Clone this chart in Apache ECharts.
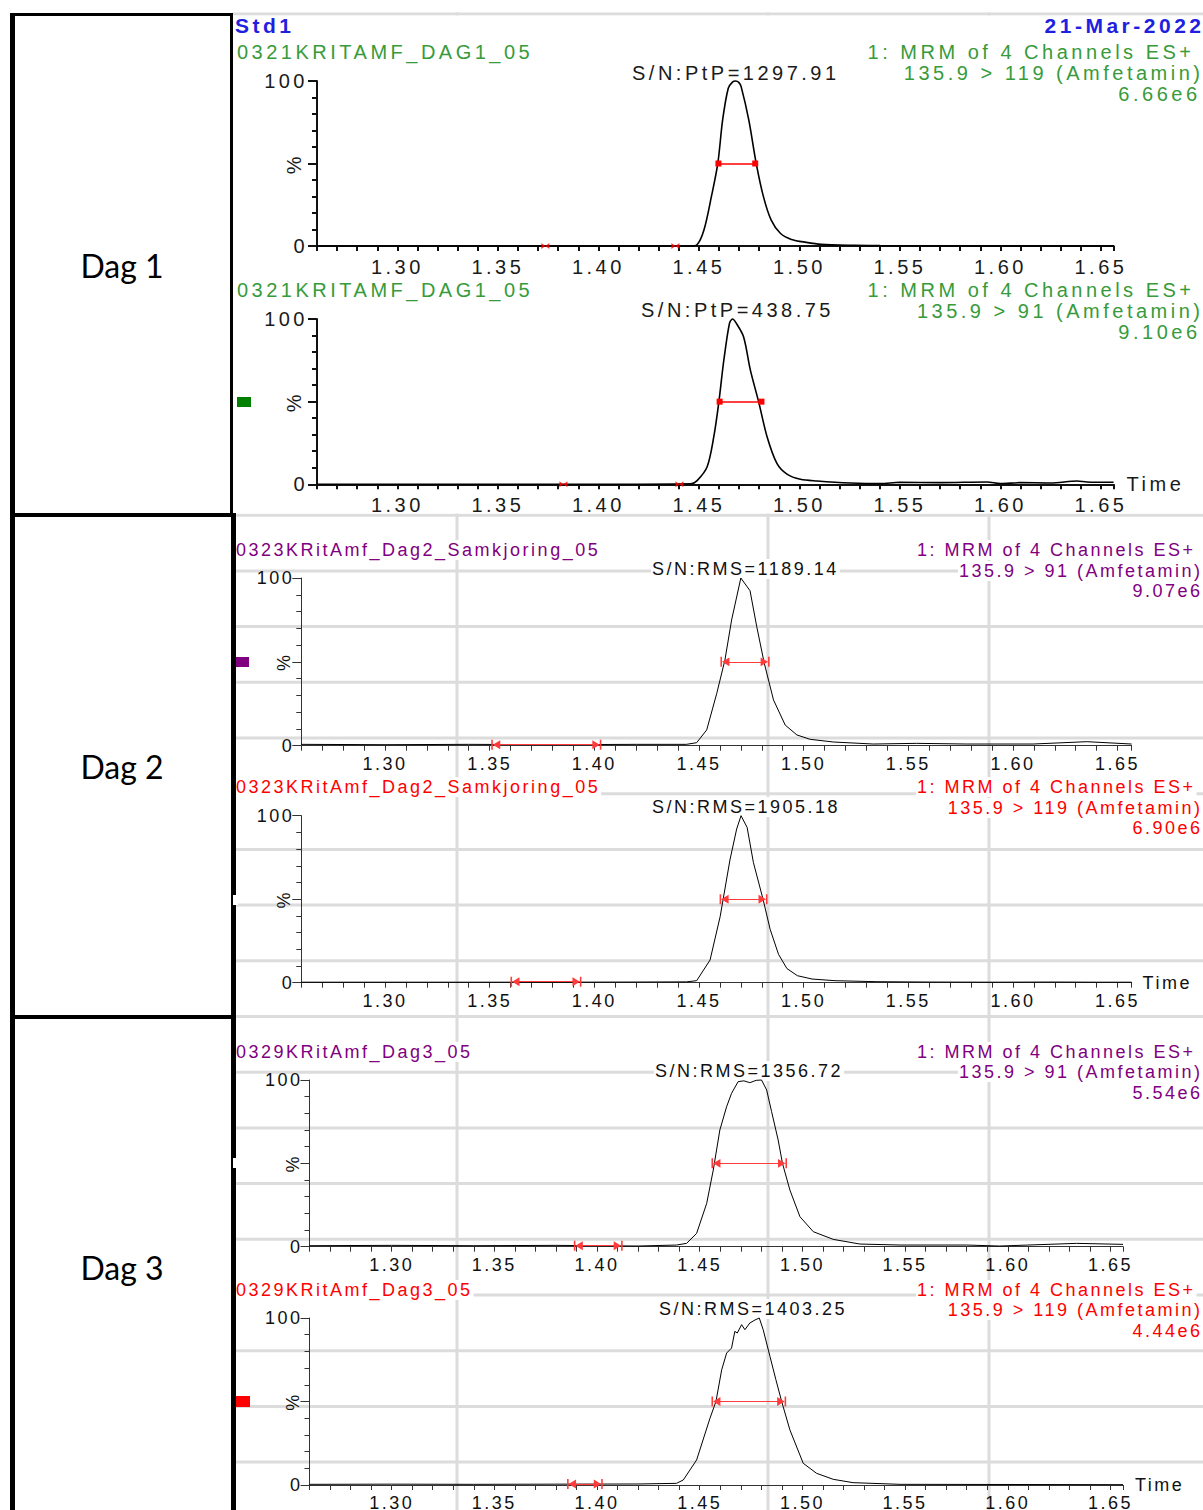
<!DOCTYPE html>
<html>
<head>
<meta charset="utf-8">
<script src="https://cdn.jsdelivr.net/npm/echarts@6/dist/echarts.min.js"></script>
<style>
  html, body { margin: 0; padding: 0; background: #fff; }
  #chart { width: 1203px; height: 1510px; }
</style>
</head>
<body>
<div id="chart"></div>
<script>
// ---------- chromatogram traces: retention time (min) / relative intensity (%) ----------
const dag1Amf119Time = [1.2600, 1.4000, 1.4458, 1.4489, 1.4525, 1.4562, 1.4594, 1.4618, 1.4646, 1.4668, 1.4683, 1.4698, 1.4710, 1.4748, 1.4785, 1.4821, 1.4859, 1.4905, 1.4960, 1.5034, 1.5108, 1.5275, 1.5400, 1.6563];
const dag1Amf119Pct  = [0, 0, 0, 0.6, 9.7, 29.9, 50.1, 76.4, 95.6, 99.5, 100, 99.2, 96.6, 76.4, 50.1, 29.9, 15.8, 7.7, 4.0, 2.2, 1.0, 0.4, 0.2, 0];

const dag1Amf91Time = [1.2600, 1.4000, 1.4460, 1.4491, 1.4541, 1.4574, 1.4599, 1.4624, 1.4652, 1.4667, 1.4684, 1.4722, 1.4756, 1.4797, 1.4839, 1.4888, 1.4938, 1.5005, 1.5088, 1.5254, 1.5403, 1.5500, 1.5700, 1.5934, 1.6000, 1.6100, 1.6250, 1.6382, 1.6430, 1.6563];
const dag1Amf91Pct  = [0, 0, 0.3, 2.2, 10.6, 28.8, 49.6, 75.2, 97.4, 100, 97.8, 89.3, 69.1, 50.0, 28.8, 12.7, 6.2, 3.0, 2.0, 0.8, 0.4, 1.2, 1.0, 1.4, 0.4, 1.0, 0.8, 2.0, 1.4, 1.2];

const dag2Amf91Time = [1.2600, 1.3000, 1.3400, 1.3800, 1.4200, 1.4440, 1.4489, 1.4537, 1.4585, 1.4624, 1.4656, 1.4700, 1.4744, 1.4776, 1.4811, 1.4856, 1.4912, 1.4968, 1.5031, 1.5142, 1.5333, 1.5540, 1.5780, 1.6096, 1.6353, 1.6567];
const dag2Amf91Pct  = [0.8, 0.6, 0.8, 0.6, 0.8, 0.8, 1.8, 9.4, 31.2, 51.1, 75.0, 100, 92.4, 71.0, 49.7, 27.3, 12.3, 6.4, 3.8, 2.2, 1.0, 1.4, 1.0, 1.0, 2.4, 1.0];

const dag2Amf119Time = [1.2600, 1.3000, 1.3400, 1.3800, 1.4200, 1.4440, 1.4489, 1.4553, 1.4601, 1.4648, 1.4680, 1.4701, 1.4730, 1.4760, 1.4806, 1.4840, 1.4880, 1.4920, 1.4970, 1.5040, 1.5150, 1.5350, 1.5600, 1.5900, 1.6200, 1.6400, 1.6567];
const dag2Amf119Pct  = [0.3, 0.3, 0.3, 0.3, 0.4, 0.5, 1.2, 13.6, 39.5, 73.5, 92.0, 100, 93.0, 72.0, 50.0, 32.0, 17.0, 8.5, 4.2, 2.2, 1.2, 0.6, 0.4, 0.3, 0.4, 0.3, 0.3];

const dag3Amf91Time = [1.2600, 1.3000, 1.3400, 1.3800, 1.4200, 1.4387, 1.4436, 1.4485, 1.4534, 1.4566, 1.4598, 1.4631, 1.4655, 1.4687, 1.4715, 1.4744, 1.4775, 1.4801, 1.4826, 1.4850, 1.4882, 1.4903, 1.4939, 1.4988, 1.5053, 1.5150, 1.5280, 1.5475, 1.5800, 1.5960, 1.6335, 1.6561];
const dag3Amf91Pct  = [0.6, 0.8, 0.6, 0.8, 0.4, 1.0, 2.0, 8.0, 26.0, 46.0, 70.0, 84.0, 92.0, 99.0, 99.5, 98.4, 99.8, 100, 94.0, 81.0, 64.0, 50.0, 34.0, 18.0, 9.0, 4.4, 1.6, 1.0, 1.0, 0.4, 2.0, 1.4];

const dag3Amf119Time = [1.2600, 1.3000, 1.3400, 1.3800, 1.4200, 1.4387, 1.4420, 1.4485, 1.4550, 1.4579, 1.4607, 1.4631, 1.4655, 1.4671, 1.4683, 1.4704, 1.4720, 1.4744, 1.4769, 1.4790, 1.4809, 1.4842, 1.4871, 1.4899, 1.4939, 1.5004, 1.5069, 1.5150, 1.5247, 1.5475, 1.6561];
const dag3Amf119Pct  = [0.4, 0.5, 0.4, 0.5, 0.6, 1.0, 3.0, 15.0, 40.0, 50.0, 69.0, 79.0, 82.0, 92.0, 91.0, 96.0, 93.0, 97.0, 98.8, 100, 93.0, 77.0, 63.0, 50.0, 33.0, 13.0, 7.0, 3.4, 1.4, 0.4, 0.2];

// ---------- peak width at half height and noise windows (min) ----------
const dag1Amf119Fwhm = [1.4597, 1.4780], dag1Amf119Noise = [1.3736, 1.4383];
const dag1Amf91Fwhm  = [1.4603, 1.4811], dag1Amf91Noise  = [1.3826, 1.4403];
const dag2Amf91Fwhm  = [1.4624, 1.4816], dag2Amf91Noise  = [1.3529, 1.4012];
const dag2Amf119Fwhm = [1.4620, 1.4806], dag2Amf119Noise = [1.3621, 1.3917];
const dag3Amf91Fwhm  = [1.4579, 1.4903], dag3Amf91Noise  = [1.3909, 1.4103];
const dag3Amf119Fwhm = [1.4579, 1.4899], dag3Amf119Noise = [1.3876, 1.4006];

// ---------- captions ----------
const standardName = 'Std1';
const runDate = '21-Mar-2022';
const dayLabels = ['Dag 1', 'Dag 2', 'Dag 3'];
const channelLabel = '1: MRM of 4 Channels ES+';
const sampleNames = ['0321KRITAMF_DAG1_05', '0321KRITAMF_DAG1_05', '0323KRitAmf_Dag2_Samkjoring_05', '0323KRitAmf_Dag2_Samkjoring_05', '0329KRitAmf_Dag3_05', '0329KRitAmf_Dag3_05'];
const transitions = ['135.9 > 119 (Amfetamin)', '135.9 > 91 (Amfetamin)', '135.9 > 91 (Amfetamin)', '135.9 > 119 (Amfetamin)', '135.9 > 91 (Amfetamin)', '135.9 > 119 (Amfetamin)'];
const intensities = ['6.66e6', '9.10e6', '9.07e6', '6.90e6', '5.54e6', '4.44e6'];
const snLabels = ['S/N:PtP=1297.91', 'S/N:PtP=438.75', 'S/N:RMS=1189.14', 'S/N:RMS=1905.18', 'S/N:RMS=1356.72', 'S/N:RMS=1403.25'];
const timeAxisName = 'Time';
const yAxisName = '%';

const traces = [
  { time: dag1Amf119Time, pct: dag1Amf119Pct, fwhm: dag1Amf119Fwhm, noise: dag1Amf119Noise },
  { time: dag1Amf91Time,  pct: dag1Amf91Pct,  fwhm: dag1Amf91Fwhm,  noise: dag1Amf91Noise },
  { time: dag2Amf91Time,  pct: dag2Amf91Pct,  fwhm: dag2Amf91Fwhm,  noise: dag2Amf91Noise },
  { time: dag2Amf119Time, pct: dag2Amf119Pct, fwhm: dag2Amf119Fwhm, noise: dag2Amf119Noise },
  { time: dag3Amf91Time,  pct: dag3Amf91Pct,  fwhm: dag3Amf91Fwhm,  noise: dag3Amf91Noise },
  { time: dag3Amf119Time, pct: dag3Amf119Pct, fwhm: dag3Amf119Fwhm, noise: dag3Amf119Noise }
];

// ---------- layout ----------
const ML_FONT = 'Liberation Sans, Arial';
const AR_FONT = 'Arial, Liberation Sans';
const looks = {
  ml: { font: ML_FONT, size: 20, spacing: 3.5, axis: '#111', axisW: 2, traceW: 1.6, smooth: 0.3, text: '#1a1a1a',
        yLabelMargin: 9, xLabelMargin: 11, pctGap: 13, boxed: false },
  ar: { font: AR_FONT, size: 18, spacing: 2.5, axis: '#333', axisW: 1, traceW: 1, smooth: false, text: '#111',
        yLabelMargin: 7, xLabelMargin: 9, pctGap: 8, boxed: true }
};
const GREEN = '#379b3b', PURPLE = '#800080', RED = '#ff0000';
const panels = [
  { look: 'ml', color: GREEN,  grid: { left: 317,   top: 81,    width: 796.6, height: 165 },   xMax: 1.6563, timeGap: null,
    name: [237, 52],  channel: [1194.5, 52],  trans: [1203.5, 73],  inten: [1200.5, 94],  sn: [632, 73] },
  { look: 'ml', color: GREEN,  grid: { left: 317,   top: 319,   width: 796.6, height: 165.3 }, xMax: 1.6563, timeGap: 13,
    name: [237, 290], channel: [1194.5, 290], trans: [1203.5, 311], inten: [1200.5, 332], sn: [641, 310] },
  { look: 'ar', color: PURPLE, grid: { left: 301.3, top: 578,   width: 830.3, height: 167.7 }, xMax: 1.6567, timeGap: null,
    name: [236, 550], channel: [1195.5, 550], trans: [1202.5, 571], inten: [1202.5, 591], sn: [652, 569] },
  { look: 'ar', color: RED,    grid: { left: 301.3, top: 815.7, width: 830.3, height: 167 },   xMax: 1.6567, timeGap: 11,
    name: [236, 787], channel: [1195.5, 787], trans: [1202.5, 808], inten: [1202.5, 828], sn: [652, 807] },
  { look: 'ar', color: PURPLE, grid: { left: 309.5, top: 1080,  width: 813.5, height: 166.7 }, xMax: 1.6561, timeGap: null,
    name: [236, 1052], channel: [1195.5, 1052], trans: [1202.5, 1072], inten: [1202.5, 1093], sn: [655, 1071] },
  { look: 'ar', color: RED,    grid: { left: 309.5, top: 1318,  width: 813.5, height: 167 },   xMax: 1.6561, timeGap: 12,
    name: [236, 1290], channel: [1195.5, 1290], trans: [1202.5, 1310], inten: [1202.5, 1331], sn: [659, 1309] }
];
const legendSwatches = [
  { x: 237, y: 397, w: 14, h: 10, fill: '#008000' },
  { x: 236, y: 657, w: 13, h: 10, fill: PURPLE },
  { x: 233, y: 895, w: 5, h: 10, fill: '#ffffff' },
  { x: 233, y: 1158, w: 5, h: 10, fill: '#ffffff' },
  { x: 236, y: 1396, w: 14, h: 11, fill: RED }
];
const sheetRowStart = 13.9, sheetRowStep = 55.7, sheetCols = [457, 768, 989];

const CAP_SYMBOL = 'path://M0,0 L9,0 L9,1.4 L0,1.4 Z M4.5,1.4 L8.5,8 L0.5,8 Z';
const BOWTIE = 'path://M0,0 L5,5 L0,10 Z M10,0 L5,5 L10,10 Z';

const measurer = document.createElement('canvas').getContext('2d');
function textWidth(str, family, size, spacing, weight) {
  measurer.font = (weight || 'normal') + ' ' + size + 'px ' + family;
  return measurer.measureText(str).width + spacing * str.length;
}
function caption(str, x, y, align, color, look, weight, size) {
  const fs = size || look.size;
  const out = [];
  if (look.boxed) {
    const w = textWidth(str, look.font, fs, look.spacing, weight);
    const left = align === 'right' ? x - w : x;
    out.push({ type: 'rect', z: -2, silent: true,
      shape: { x: left - 1, y: y - fs / 2 - 1, width: w + 2, height: fs + 2 }, style: { fill: '#fff' } });
  }
  out.push({ type: 'text', z: 5, silent: true,
    style: { text: str, x: x, y: y, textAlign: align, textVerticalAlign: 'middle', fill: color,
             font: (weight || 'normal') + ' ' + fs + 'px ' + look.font } });
  return out;
}
const xLabel = v => (Math.abs(v * 20 - Math.round(v * 20)) < 1e-6 ? v.toFixed(2) : '');

const option = { animation: false, grid: [], xAxis: [], yAxis: [], series: [], graphic: { elements: [] } };
const g = option.graphic.elements;

// spreadsheet gridlines behind the pasted chromatograms
for (let y = sheetRowStart; y < 1510; y += sheetRowStep) {
  g.push({ type: 'line', z: -3, silent: true, shape: { x1: 232, y1: y, x2: 1203, y2: y }, style: { stroke: '#dcdcdc', lineWidth: 3 } });
}
sheetCols.forEach(x => g.push({ type: 'line', z: -3, silent: true, shape: { x1: x, y1: 12.5, x2: x, y2: 1510 }, style: { stroke: '#dcdcdc', lineWidth: 3 } }));
// opaque background of the day-1 export
g.push({ type: 'rect', z: -2, silent: true, shape: { x: 233, y: 15.5, width: 970, height: 498 }, style: { fill: '#fff' } });

panels.forEach((p, i) => {
  const look = looks[p.look];
  const tr = traces[i];
  const lineStyle = { color: look.axis, width: look.axisW };
  option.grid.push(Object.assign({ outerBoundsMode: 'none', containLabel: false }, p.grid));
  option.xAxis.push({
    gridIndex: i, type: 'value', min: 1.26, max: p.xMax, interval: 0.01,
    axisLine: { show: true, onZero: false, lineStyle: lineStyle },
    axisTick: { show: true, length: 5, lineStyle: lineStyle },
    axisLabel: { show: true, formatter: xLabel, margin: look.xLabelMargin, color: look.text, fontSize: look.size, fontFamily: look.font },
    splitLine: { show: false },
    name: p.timeGap === null ? '' : timeAxisName, nameLocation: 'end', nameGap: p.timeGap || 0, nameMoveOverlap: false,
    nameTextStyle: { color: look.text, fontSize: look.size, fontFamily: look.font }
  });
  option.yAxis.push({
    gridIndex: i, type: 'value', min: 0, max: 100, interval: 50,
    axisLine: { show: true, onZero: false, lineStyle: lineStyle },
    axisTick: { show: true, length: 9, lineStyle: lineStyle },
    minorTick: { show: true, splitNumber: 5, length: 5, lineStyle: lineStyle },
    axisLabel: { formatter: v => (v === 50 ? '' : String(v)), margin: look.yLabelMargin, color: look.text, fontSize: look.size, fontFamily: look.font },
    splitLine: { show: false }, minorSplitLine: { show: false },
    name: yAxisName, nameLocation: 'middle', nameRotate: 90, nameGap: look.pctGap, nameMoveOverlap: false,
    nameTextStyle: { color: look.text, fontSize: look.size, fontFamily: look.font }
  });

  const marks = [[{ coord: [tr.fwhm[0], 50] }, { coord: [tr.fwhm[1], 50] }]];
  if (p.look === 'ar') marks.push([{ coord: [tr.noise[0], 0.6] }, { coord: [tr.noise[1], 0.6] }]);
  option.series.push({
    type: 'line', xAxisIndex: i, yAxisIndex: i, clip: false, silent: true, z: 3,
    data: tr.time.map((t, k) => [t, tr.pct[k]]),
    symbol: 'none', smooth: look.smooth,
    lineStyle: { color: '#000', width: look.traceW },
    emphasis: { disabled: true },
    markLine: {
      silent: true, animation: false,
      symbol: p.look === 'ml' ? ['rect', 'rect'] : [CAP_SYMBOL, CAP_SYMBOL],
      symbolSize: p.look === 'ml' ? [6, 6] : [10, 9],
      label: { show: false }, emphasis: { disabled: true },
      lineStyle: { color: p.look === 'ml' ? RED : '#ff3b3b', width: p.look === 'ml' ? 1.6 : 1.2, type: 'solid', opacity: 1 },
      data: marks
    }
  });
  if (p.look === 'ml') {
    option.series.push({
      type: 'scatter', xAxisIndex: i, yAxisIndex: i, clip: false, silent: true, z: 4,
      data: tr.noise.map(t => [t, 0]), symbol: BOWTIE, symbolSize: [8, 6],
      itemStyle: { color: RED }, emphasis: { disabled: true }
    });
  }

  g.push(...caption(sampleNames[i], p.name[0], p.name[1], 'left', p.color, look));
  g.push(...caption(channelLabel, p.channel[0], p.channel[1], 'right', p.color, look));
  g.push(...caption(transitions[i], p.trans[0], p.trans[1], 'right', p.color, look));
  g.push(...caption(intensities[i], p.inten[0], p.inten[1], 'right', p.color, look));
  g.push(...caption(snLabels[i], p.sn[0], p.sn[1], 'left', look.text, look));
});

// run header of the day-1 export
g.push(...caption(standardName, 235, 25, 'left', '#1f1fe0', looks.ml, 'bold', 21));
g.push(...caption(runDate, 1204.5, 25, 'right', '#1f1fe0', looks.ml, 'bold', 21));

legendSwatches.forEach(s => g.push({ type: 'rect', z: 7, silent: true, shape: { x: s.x, y: s.y, width: s.w, height: s.h }, style: { fill: s.fill } }));

// day column with its table borders
[
  { x: 10, y: 13, width: 223, height: 3 },
  { x: 10, y: 13, width: 5, height: 1497 },
  { x: 230, y: 13, width: 3, height: 503 },
  { x: 231, y: 514, width: 5, height: 996 },
  { x: 10, y: 513, width: 226, height: 4 },
  { x: 10, y: 1015, width: 226, height: 4 }
].forEach(r => g.push({ type: 'rect', z: 6, silent: true, shape: r, style: { fill: '#000' } }));
[265, 766, 1267].forEach((y, k) => g.push({
  type: 'text', z: 6, silent: true,
  style: { text: dayLabels[k], x: 122, y: y, textAlign: 'center', textVerticalAlign: 'middle', fill: '#000', font: 'normal 32px Lato' }
}));
legendSwatches.slice(2, 4).forEach(s => g.push({ type: 'rect', z: 8, silent: true, shape: { x: s.x, y: s.y, width: s.w, height: s.h }, style: { fill: s.fill } }));

const chart = echarts.init(document.getElementById('chart'), null, { renderer: 'svg', width: 1203, height: 1510 });

// wide MassLynx-style tracking: Liberation-first texts and Arial-first texts get their own spacing
function applyTracking() {
  document.querySelectorAll('#chart svg text').forEach(el => {
    const fam = (getComputedStyle(el).fontFamily || '').replace(/["']/g, '').toLowerCase().trim();
    if (fam.indexOf('liberation sans') === 0) el.style.letterSpacing = looks.ml.spacing + 'px';
    else if (fam.indexOf('arial') === 0) el.style.letterSpacing = looks.ar.spacing + 'px';
  });
}
chart.on('finished', applyTracking);
chart.setOption(option);
applyTracking();
</script>
</body>
</html>
